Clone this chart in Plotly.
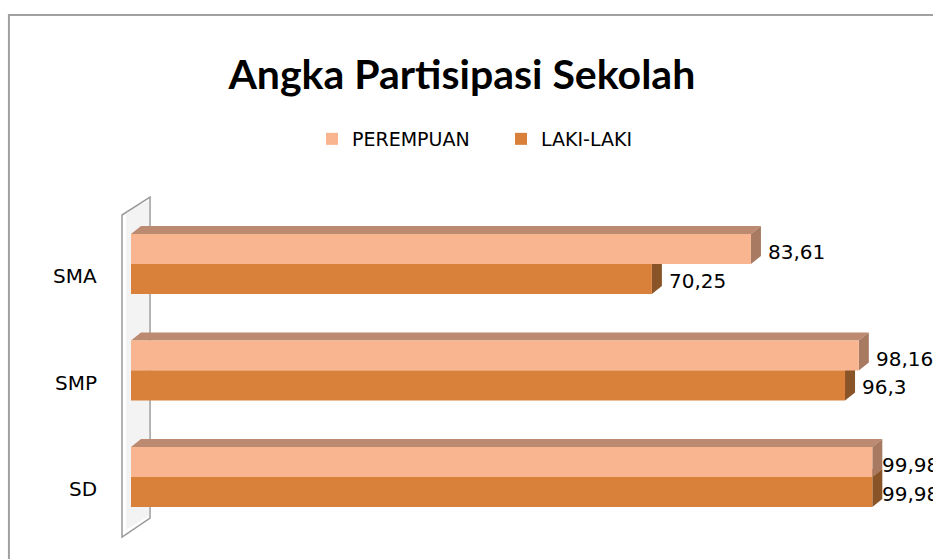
import plotly.graph_objects as go

# ---- data ----
categories = ["SD", "SMP", "SMA"]          # bottom -> top
perempuan = [99.98, 98.16, 83.61]
laki_laki = [99.98, 96.3, 70.25]
series_names = ["PEREMPUAN", "LAKI-LAKI"]
title_text = "Angka Partisipasi Sekolah"

# ---- style ----
C_PER = "#F9B58F"
C_LAKI = "#D9803B"
C_PER_TOP = "#BC8A70"
C_PER_SIDE = "#A87A62"
C_LAKI_TOP = "#9A5E34"
C_LAKI_SIDE = "#8A5429"
TFONT = "Lato"
FONT = "DejaVu Sans"

W, H = 933, 559
X0PX, X100PX = 131, 872  # pixel of value 0 and of value 100
px_per_x = (X100PX - X0PX) / 100
L = 118                  # plot area left pixel
XMAX = 102.5             # axis max (room for the 3D side faces)
R = X0PX + XMAX * px_per_x
XMIN = (L - X0PX) / px_per_x
T, B = 190, 548          # plot area y pixels
cat_px = 106.5           # pixels per category
center_top_px = 264      # pixel of top category centre
ymax = (len(categories) - 1) + (center_top_px - T) / cat_px
ymin = ymax - (B - T) / cat_px
LABEL_MAX_LEFT = 880     # value labels never start further right than this

bargap = 0.437
bar_w = (1 - bargap) / 2
dx = 10 / px_per_x       # 3D depth
dy = 8 / cat_px

ypos = list(range(len(categories)))

fig = go.Figure()
fig.add_trace(go.Bar(name=series_names[1], x=laki_laki, y=ypos, orientation="h",
                     marker=dict(color=C_LAKI, line=dict(width=0))))
fig.add_trace(go.Bar(name=series_names[0], x=perempuan, y=ypos, orientation="h",
                     marker=dict(color=C_PER, line=dict(width=0))))

shapes = []
# outer chart border
shapes.append(dict(type="rect", xref="paper", yref="paper",
                   x0=(9 - L) / (R - L), x1=1.5, y0=-0.5, y1=(B - 15) / (B - T),
                   line=dict(color="#A0A0A0", width=2), fillcolor="rgba(0,0,0,0)",
                   layer="below"))

def ypx(p):
    return (len(categories) - 1) + (center_top_px - p) / cat_px

def xpx(p):
    return (p - X0PX) / px_per_x

# side wall
wl, wr = xpx(122), xpx(150)
wall_path = (f"M {wl},{ypx(215)} L {wr},{ypx(197)} L {wr},{ypx(518)} "
             f"L {wl},{ypx(537)} Z")
shapes.append(dict(type="path", xref="x", yref="y", path=wall_path,
                   fillcolor="white", line=dict(color="#9A9A9A", width=1.5),
                   layer="below"))
shapes.append(dict(type="path", xref="x", yref="y",
                   path=(f"M {xpx(126)},{ypx(212)} L {wr},{ypx(200)} "
                         f"L {wr},{ypx(515)} L {xpx(126)},{ypx(530)} Z"),
                   fillcolor="rgba(200,200,200,0.22)", line=dict(width=0),
                   layer="below"))

def faces(v, y0, y1, ctop, cside):
    top = f"M 0,{y1} L {v},{y1} L {v+dx},{y1+dy} L {dx},{y1+dy} Z"
    side = f"M {v},{y0} L {v},{y1} L {v+dx},{y1+dy} L {v+dx},{y0+dy} Z"
    return [dict(type="path", xref="x", yref="y", path=top, fillcolor=ctop,
                 line=dict(width=0), layer="below"),
            dict(type="path", xref="x", yref="y", path=side, fillcolor=cside,
                 line=dict(width=0), layer="below")]

def label_shift(v):
    end_px = X0PX + v * px_per_x
    return min(15, LABEL_MAX_LEFT - end_px)

annotations = []
for i, c in enumerate(categories):
    y = ypos[i]
    shapes += faces(laki_laki[i], y - bar_w, y, C_LAKI_TOP, C_LAKI_SIDE)
    shapes += faces(perempuan[i], y, y + bar_w, C_PER_TOP, C_PER_SIDE)
    annotations.append(dict(x=perempuan[i], y=y + bar_w / 2, xref="x", yref="y",
                            text=str(perempuan[i]).replace(".", ","),
                            showarrow=False, xanchor="left",
                            xshift=label_shift(perempuan[i]), yshift=-3,
                            font=dict(family=FONT, size=20, color="#000")))
    annotations.append(dict(x=laki_laki[i], y=y - bar_w / 2, xref="x", yref="y",
                            text=str(laki_laki[i]).replace(".", ","),
                            showarrow=False, xanchor="left",
                            xshift=label_shift(laki_laki[i]), yshift=-2,
                            font=dict(family=FONT, size=20, color="#000")))
    annotations.append(dict(x=XMIN, y=y, xref="x", yref="y", text=c,
                            showarrow=False, xanchor="right",
                            xshift=-(L - 100) - 1, yshift=-12,
                            font=dict(family=FONT, size=20, color="#000")))

fig.update_layout(
    width=W, height=H,
    margin=dict(l=L, r=W - R, t=T, b=H - B, pad=0),
    paper_bgcolor="white", plot_bgcolor="white",
    barmode="group", bargap=bargap, bargroupgap=0,
    title=dict(text=f"<b>{title_text}</b>", x=0.495, xanchor="center",
               y=1 - 75 / H, yanchor="middle",
               font=dict(family=TFONT, size=41, color="#000")),
    legend=dict(orientation="h", traceorder="reversed", xref="container",
                yref="container", x=312 / W, xanchor="left", y=1 - 139 / H,
                yanchor="middle", entrywidth=144, entrywidthmode="pixels",
                font=dict(family=FONT, size=19, color="#000"),
                bgcolor="rgba(0,0,0,0)"),
    xaxis=dict(range=[XMIN, XMAX], visible=False, fixedrange=True),
    yaxis=dict(range=[ymin, ymax], visible=False, fixedrange=True),
    shapes=shapes, annotations=annotations,
)

fig.write_html("out.html", config={"displayModeBar": False},
               post_script="document.body.style.margin='0';"
                           "document.body.style.overflow='hidden';")
